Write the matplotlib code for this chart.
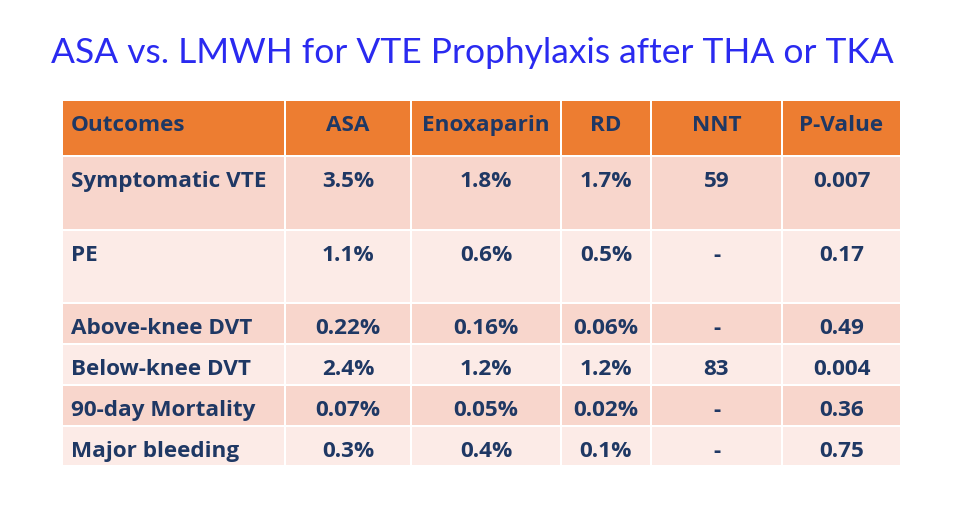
import matplotlib.pyplot as plt
from matplotlib.patches import Rectangle

# table contents
title = "ASA vs. LMWH for VTE Prophylaxis after THA or TKA"
headers = ["Outcomes", "ASA", "Enoxaparin", "RD", "NNT", "P-Value"]
outcomes = ["Symptomatic VTE", "PE", "Above-knee DVT", "Below-knee DVT",
            "90-day Mortality", "Major bleeding"]
asa = ["3.5%", "1.1%", "0.22%", "2.4%", "0.07%", "0.3%"]
enoxaparin = ["1.8%", "0.6%", "0.16%", "1.2%", "0.05%", "0.4%"]
rd = ["1.7%", "0.5%", "0.06%", "1.2%", "0.02%", "0.1%"]
nnt = ["59", "-", "-", "83", "-", "-"]
p_value = ["0.007", "0.17", "0.49", "0.004", "0.36", "0.75"]

# layout in pixels
col_edges = [63, 286, 412, 562, 652, 783, 900]
row_edges = [101, 157, 231, 304, 345, 386, 427, 467]
gap = 2

ORANGE = "#ED7D31"
ROW_DARK = "#F8D6CC"
ROW_LIGHT = "#FCEBE7"
NAVY = "#1F3864"
TITLE_BLUE = "#2A2AF0"

plt.rcParams['font.family'] = ['Open Sans', 'DejaVu Sans']

fig = plt.figure(figsize=(9.68, 5.23), dpi=100)
ax = fig.add_axes([0, 0, 1, 1])
ax.set_xlim(0, 968)
ax.set_ylim(523, 0)
ax.axis('off')

ax.text(472, 63, title, ha='center', va='baseline', fontsize=25.5,
        color=TITLE_BLUE, family=['Lato', 'DejaVu Sans'])

rows = [headers] + [list(r) for r in zip(outcomes, asa, enoxaparin, rd, nnt, p_value)]
for i, row in enumerate(rows):
    top = row_edges[i]
    bottom = row_edges[i + 1] - gap
    if i == 0:
        face = ORANGE
    elif i % 2 == 1:
        face = ROW_DARK
    else:
        face = ROW_LIGHT
    for j, cell in enumerate(row):
        left = col_edges[j]
        right = col_edges[j + 1] - (gap if j < len(row) - 1 else 0)
        ax.add_patch(Rectangle((left, top), right - left, bottom - top,
                               facecolor=face, edgecolor='none'))
        if j == 0:
            x, ha = left + 8, 'left'
        else:
            x, ha = (left + right) / 2, 'center'
        ax.text(x, top + 30, cell, ha=ha, va='baseline', fontsize=16.2,
                fontweight='bold', color=NAVY)

fig.savefig("out.png", dpi=100)
